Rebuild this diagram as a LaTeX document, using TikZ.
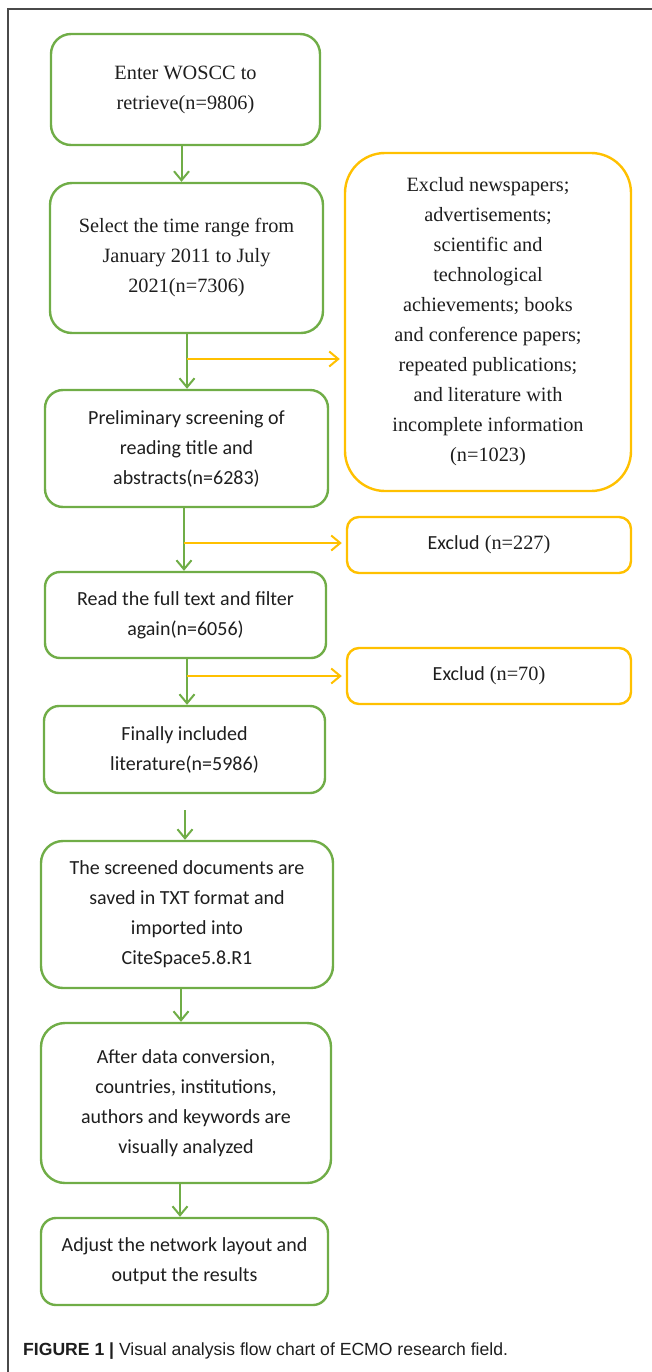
\documentclass[tikz,border=0pt]{standalone}
\usepackage{fontspec}
\setmainfont{Liberation Serif}
\newfontfamily\calib{Carlito}
\newfontfamily\capfont{Liberation Sans}
\usetikzlibrary{arrows.meta}
\definecolor{gbox}{HTML}{70AD47}
\definecolor{ybox}{HTML}{FFC000}
\definecolor{txt}{HTML}{1E1E1E}
\definecolor{frame}{HTML}{4A4A4A}
\tikzset{
  gnode/.style={draw=gbox, line width=2.4pt, rounded corners=18pt, align=center, inner sep=0pt, text=txt, font=\fontsize{20.3}{30}\selectfont},
  ynode/.style={draw=ybox, line width=2.4pt, rounded corners=12pt, align=center, inner sep=0pt, text=txt, font=\fontsize{20.3}{30}\selectfont},
  garrow/.style={draw=gbox, line width=2pt, -{Straight Barb[length=9pt,width=15pt,line width=2pt]}},
  yarrow/.style={draw=ybox, line width=2pt, shorten >=4pt, -{Straight Barb[length=9pt,width=15pt,line width=2pt]}},
  sansfont/.style={font=\calib\fontsize{20}{30}\selectfont}
}
\begin{document}
\begin{tikzpicture}[x=1pt,y=-1pt]
\useasboundingbox (0,0) rectangle (652,1372);
\draw[frame, line width=1.6pt] (8,1372) -- (8,9) -- (652,9);

\node[gnode, minimum width=269pt, minimum height=111pt, rounded corners=20pt] (b1) at (185.5,89.5) {Enter WOSCC to\\retrieve(n=9806)};
\node[gnode, minimum width=273pt, minimum height=150pt, rounded corners=22pt] (b2) at (186.5,258) {Select the time range from\\January 2011 to July\\2021(n=7306)};
\node[gnode, sansfont, minimum width=283pt, minimum height=117pt] (b3) at (186.5,448.5) {Preliminary screening of\\reading title and\\abstracts(n=6283)};
\node[gnode, sansfont, minimum width=281pt, minimum height=86pt, rounded corners=15pt] (b4) at (185.5,615) {Read the full text and filter\\again(n=6056)};
\node[gnode, sansfont, minimum width=281pt, minimum height=87pt, rounded corners=15pt] (b5) at (184.5,749.5) {Finally included\\literature(n=5986)};
\node[gnode, sansfont, minimum width=292pt, minimum height=147pt, rounded corners=22pt] (b6) at (187,914.5) {The screened documents are\\saved in TXT format and\\imported into\\CiteSpace5.8.R1};
\node[gnode, sansfont, minimum width=290pt, minimum height=160pt, rounded corners=24pt] (b7) at (186,1103) {After data conversion,\\countries, institutions,\\authors and keywords are\\visually analyzed};
\node[gnode, sansfont, minimum width=287pt, minimum height=87pt, rounded corners=15pt] (b8) at (184.5,1261.5) {Adjust the network layout and\\output the results};

\node[ynode, minimum width=286pt, minimum height=338pt, rounded corners=40pt] (y1) at (488,322) {Exclud newspapers;\\advertisements;\\scientific and\\technological\\achievements; books\\and conference papers;\\repeated publications;\\and literature with\\incomplete information\\(n=1023)};
\node[ynode, minimum width=284pt, minimum height=56pt] (y2) at (489,545) {{\calib\fontsize{20}{30}\selectfont Exclud} (n=227)};
\node[ynode, minimum width=284pt, minimum height=56pt] (y3) at (489,676) {{\calib\fontsize{20}{30}\selectfont Exclud} (n=70)};

\coordinate (j1) at (187,359);
\coordinate (j2) at (184,543);
\coordinate (j3) at (187,676);
\coordinate (s5) at (185,810);

\draw[garrow] ([xshift=-4pt]b1.south) -- ([xshift=-4pt]b1.south |- b2.north);
\draw[garrow] (b2.south -| j1) -- (b3.north -| j1);
\draw[garrow] (b3.south -| j2) -- (b4.north -| j2);
\draw[garrow] (b4.south -| j3) -- (b5.north -| j3);
\draw[garrow] (s5) -- (b6.north -| s5);
\draw[garrow] ([xshift=-6pt]b6.south) -- ([xshift=-6pt]b6.south |- b7.north);
\draw[garrow] ([xshift=-6pt]b7.south) -- ([xshift=-6pt]b7.south |- b8.north);

\draw[yarrow] (j1) -- (j1 -| y1.west);
\draw[yarrow] (j2) -- (j2 -| y2.west);
\draw[yarrow] (j3) -- (j3 -| y3.west);

\node[anchor=base west, inner sep=0pt, text=txt, font=\capfont\fontsize{17.6}{20}\selectfont] (cap) at (23,1355) {\textbf{FIGURE 1 |} Visual analysis flow chart of ECMO research field.};
\end{tikzpicture}
\end{document}
